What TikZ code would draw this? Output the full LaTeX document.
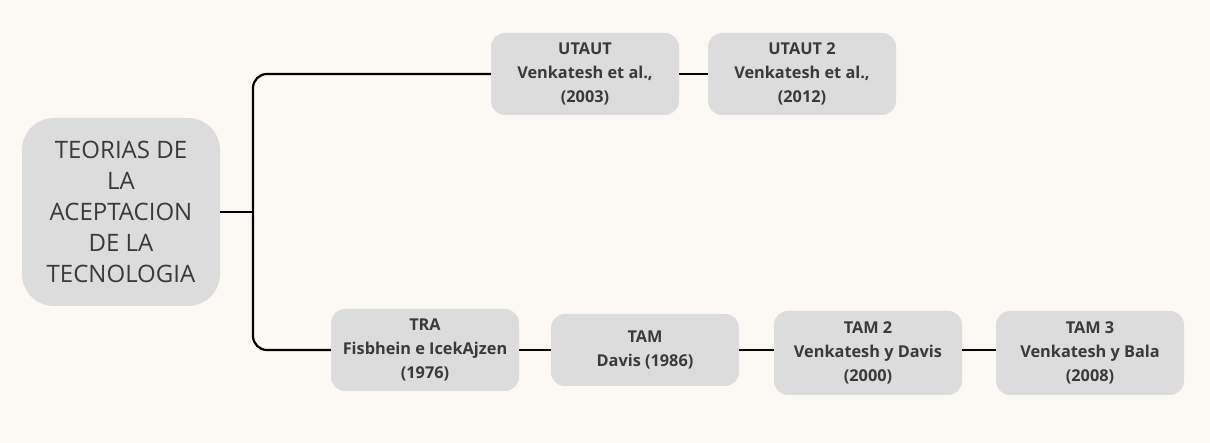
\documentclass[tikz,border=0pt]{standalone}
\usepackage{fontspec}
\setmainfont{Open Sans}
\usepackage{tikz}

\definecolor{paper}{HTML}{FCF9F5}
\definecolor{boxgray}{HTML}{DCDCDC}
\definecolor{ink}{HTML}{3A3A3A}

\tikzset{
  theory/.style={fill=boxgray, rounded corners=14pt, minimum width=188pt, minimum height=82pt,
    align=center, text=ink, font=\fontsize{16.3}{24}\selectfont\bfseries, inner sep=0pt},
  root/.style={fill=boxgray, rounded corners=32pt, minimum width=198pt, minimum height=188pt,
    align=center, text=ink, font=\fontsize{24}{31}\selectfont, inner sep=0pt},
  link/.style={line width=2.2pt, black}
}

\begin{document}
\begin{tikzpicture}[x=1pt, y=-1pt]
        \fill[paper] (0,0) rectangle (1210,443);
        \useasboundingbox (0,0) rectangle (1210,443);

        \node[root] (teorias) at (121,212) {TEORIAS DE\\LA\\ACEPTACION\\DE LA\\TECNOLOGIA};

        \node[theory] (utaut) at (585,74) {UTAUT\\Venkatesh et al.,\\(2003)};
        \node[theory] (utaut2) at (802,74) {UTAUT 2\\Venkatesh et al.,\\(2012)};

        \node[theory] (tra) at (425,350) {TRA\\Fisbhein e IcekAjzen\\(1976)};
        \node[theory, minimum height=72pt] (tam) at (645,350) {TAM\\Davis (1986)};
        \node[theory, minimum height=84pt] (tam2) at (868,353) {TAM 2\\Venkatesh y Davis\\(2000)};
        \node[theory, minimum height=84pt] (tam3) at (1090,353) {TAM 3\\Venkatesh y Bala\\(2008)};

        \coordinate (fork) at (253,212);
        \draw[link] (teorias.east) -- (fork);
        \draw[link, rounded corners=14pt] (utaut.west) -| (fork) |- (tra.west);
        \draw[link] (utaut.east) -- (utaut2.west);
        \draw[link] (tra.east) -- (tam.west);
        \draw[link] (tam.east) -- (tam2.west |- tam.east);
        \draw[link] (tam2.east |- tam.east) -- (tam3.west |- tam.east);
      \end{tikzpicture}
\end{document}
